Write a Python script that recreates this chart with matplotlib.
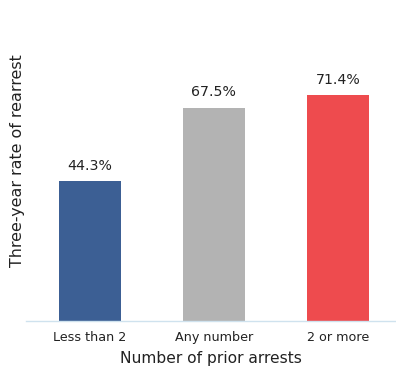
import matplotlib
matplotlib.use("Agg")
import matplotlib.pyplot as plt

categories = ["Less than 2", "Any number", "2 or more"]
values = [44.3, 67.5, 71.4]
labels = ["44.3%", "67.5%", "71.4%"]
colors = ["#3c5f94", "#b3b3b3", "#ee4b4e"]

W, H = 396, 373
fig = plt.figure(figsize=(W/100, H/100), dpi=100)
ax = fig.add_axes([26/W, 1-321/H, (396-26)/W, (321-5)/H])
x = list(range(len(categories)))
ax.bar(x, values, width=0.5, color=colors)
ax.set_xlim(-0.516, 2.47)
ax.set_ylim(0, 100)
for xi, v, l in zip(x, values, labels):
    ax.text(xi, v + 2.6, l, ha="center", va="bottom", fontsize=10.2, color="#222222")
for s in ["top", "right", "left"]:
    ax.spines[s].set_visible(False)
ax.spines["bottom"].set_color("#cfe2ee")
ax.spines["bottom"].set_linewidth(1)
ax.set_yticks([])
ax.set_xticks(x)
ax.set_xticklabels(categories, fontsize=9.2, color="#222222")
ax.tick_params(axis="x", length=0, pad=7.5)
ax.set_xlabel("Number of prior arrests", fontsize=11.2, color="#222222", labelpad=5)
fig.text(17.5/W, 1-161/H, "Three-year rate of rearrest", rotation=90, ha="center", va="center",
         fontsize=11.4, color="#222222")
fig.savefig("out.png", dpi=100)
